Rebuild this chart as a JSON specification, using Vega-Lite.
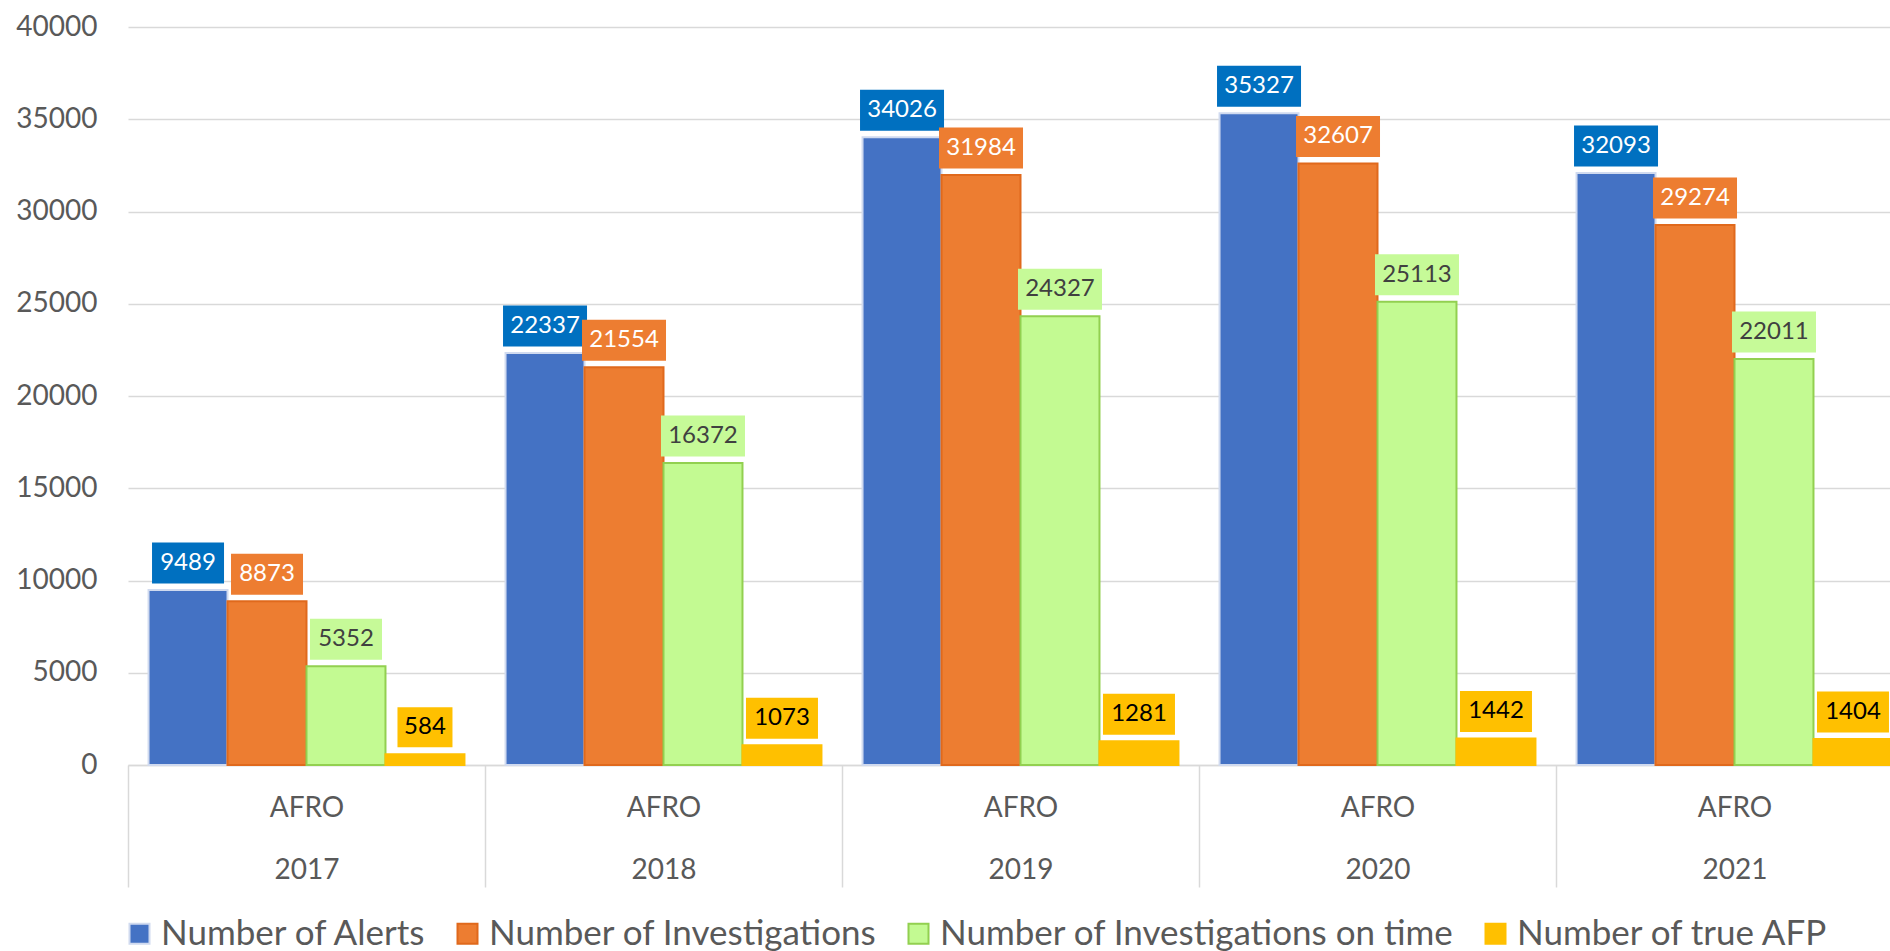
{
  "$schema": "https://vega.github.io/schema/vega-lite/v6.json",
  "width": 1762,
  "height": 738,
  "autosize": {"type": "none"},
  "padding": {"left": 128, "top": 27, "right": 0, "bottom": 186},
  "background": "white",
  "config": {
    "font": "Lato",
    "view": {"stroke": null},
    "legend": {
      "orient": "none",
      "legendX": -6,
      "legendY": 889,
      "direction": "horizontal",
      "columns": 4,
      "title": null,
      "padding": 0,
      "symbolType": "square",
      "symbolSize": 400,
      "symbolStrokeWidth": 2,
      "labelFontSize": 35,
      "labelFont": "Lato",
      "labelColor": "#595959",
      "labelOffset": 4,
      "labelLimit": 1000,
      "columnPadding": 23
    }
  },
  "data": {
    "values": [
      {"year": "2017", "series": "Number of Alerts", "value": 9489},
      {"year": "2017", "series": "Number of Investigations", "value": 8873},
      {"year": "2017", "series": "Number of Investigations on time", "value": 5352},
      {"year": "2017", "series": "Number of true AFP", "value": 584},
      {"year": "2018", "series": "Number of Alerts", "value": 22337},
      {"year": "2018", "series": "Number of Investigations", "value": 21554},
      {"year": "2018", "series": "Number of Investigations on time", "value": 16372},
      {"year": "2018", "series": "Number of true AFP", "value": 1073},
      {"year": "2019", "series": "Number of Alerts", "value": 34026},
      {"year": "2019", "series": "Number of Investigations", "value": 31984},
      {"year": "2019", "series": "Number of Investigations on time", "value": 24327},
      {"year": "2019", "series": "Number of true AFP", "value": 1281},
      {"year": "2020", "series": "Number of Alerts", "value": 35327},
      {"year": "2020", "series": "Number of Investigations", "value": 32607},
      {"year": "2020", "series": "Number of Investigations on time", "value": 25113},
      {"year": "2020", "series": "Number of true AFP", "value": 1442},
      {"year": "2021", "series": "Number of Alerts", "value": 32093},
      {"year": "2021", "series": "Number of Investigations", "value": 29274},
      {"year": "2021", "series": "Number of Investigations on time", "value": 22011},
      {"year": "2021", "series": "Number of true AFP", "value": 1404}
    ]
  },
  "encoding": {
    "x": {
      "field": "year",
      "type": "nominal",
      "scale": {"range": [0, 1785], "paddingInner": 0, "paddingOuter": 0},
      "axis": {
        "title": null,
        "labelAngle": 0,
        "domainColor": "#D9D9D9",
        "domainWidth": 1.5,
        "tickColor": "#D9D9D9",
        "tickWidth": 1.5,
        "tickSize": 122,
        "tickBand": "extent",
        "labelExpr": "isValid(datum.label) && datum.label !== '' ? ['AFRO', datum.label] : ''",
        "labelLineHeight": 62,
        "labelFontSize": 28,
        "labelFont": "Lato",
        "labelColor": "#595959",
        "labelPadding": -93
      }
    },
    "xOffset": {
      "field": "series",
      "type": "nominal",
      "scale": {
        "domain": ["Number of Alerts", "Number of Investigations", "Number of Investigations on time", "Number of true AFP"],
        "paddingOuter": 0.26,
        "paddingInner": 0
      }
    },
    "y": {
      "field": "value",
      "type": "quantitative",
      "scale": {"domain": [0, 40000]},
      "axis": {
        "title": null,
        "values": [0, 5000, 10000, 15000, 20000, 25000, 30000, 35000, 40000],
        "format": "d",
        "grid": true,
        "gridColor": "#D9D9D9",
        "gridWidth": 1.5,
        "domain": false,
        "ticks": false,
        "labelFontSize": 28,
        "labelFont": "Lato",
        "labelColor": "#595959",
        "labelPadding": 31
      }
    }
  },
  "layer": [
    {
      "mark": {"type": "bar", "strokeWidth": 2},
      "encoding": {
        "fill": {
          "field": "series",
          "type": "nominal",
          "scale": {
            "domain": ["Number of Alerts", "Number of Investigations", "Number of Investigations on time", "Number of true AFP"],
            "range": ["#4472C4", "#ED7D31", "#C3FA92", "#FFC000"]
          }
        },
        "stroke": {
          "field": "series",
          "type": "nominal",
          "scale": {
            "domain": ["Number of Alerts", "Number of Investigations", "Number of Investigations on time", "Number of true AFP"],
            "range": ["#D0DAEF", "#E0691C", "#92D050", "#FFC000"]
          }
        }
      }
    },
    {
      "mark": {"type": "point", "filled": true, "size": 4, "yOffset": -27, "opacity": 1, "strokeWidth": 0},
      "encoding": {
        "shape": {
          "condition": [
            {"test": "datum.value >= 10000", "value": "M-42,-20.5H42V20.5H-42Z"},
            {"test": "datum.value >= 1000", "value": "M-36,-20.5H36V20.5H-36Z"}
          ],
          "value": "M-27.5,-20H27.5V20H-27.5Z"
        },
        "fill": {
          "condition": [
            {"test": "datum.series === 'Number of Alerts'", "value": "#0070C0"},
            {"test": "datum.series === 'Number of Investigations'", "value": "#ED7D31"},
            {"test": "datum.series === 'Number of Investigations on time'", "value": "#C6FA98"}
          ],
          "value": "#FFC000"
        }
      }
    },
    {
      "mark": {"type": "text", "yOffset": -27, "baseline": "middle", "align": "center", "fontSize": 24, "font": "Lato"},
      "encoding": {
        "text": {"field": "value", "type": "quantitative", "format": "d"},
        "color": {
          "condition": [
            {"test": "datum.series === 'Number of Investigations on time'", "value": "#404040"},
            {"test": "datum.series === 'Number of true AFP'", "value": "#000000"}
          ],
          "value": "#FFFFFF"
        }
      }
    }
  ]
}
